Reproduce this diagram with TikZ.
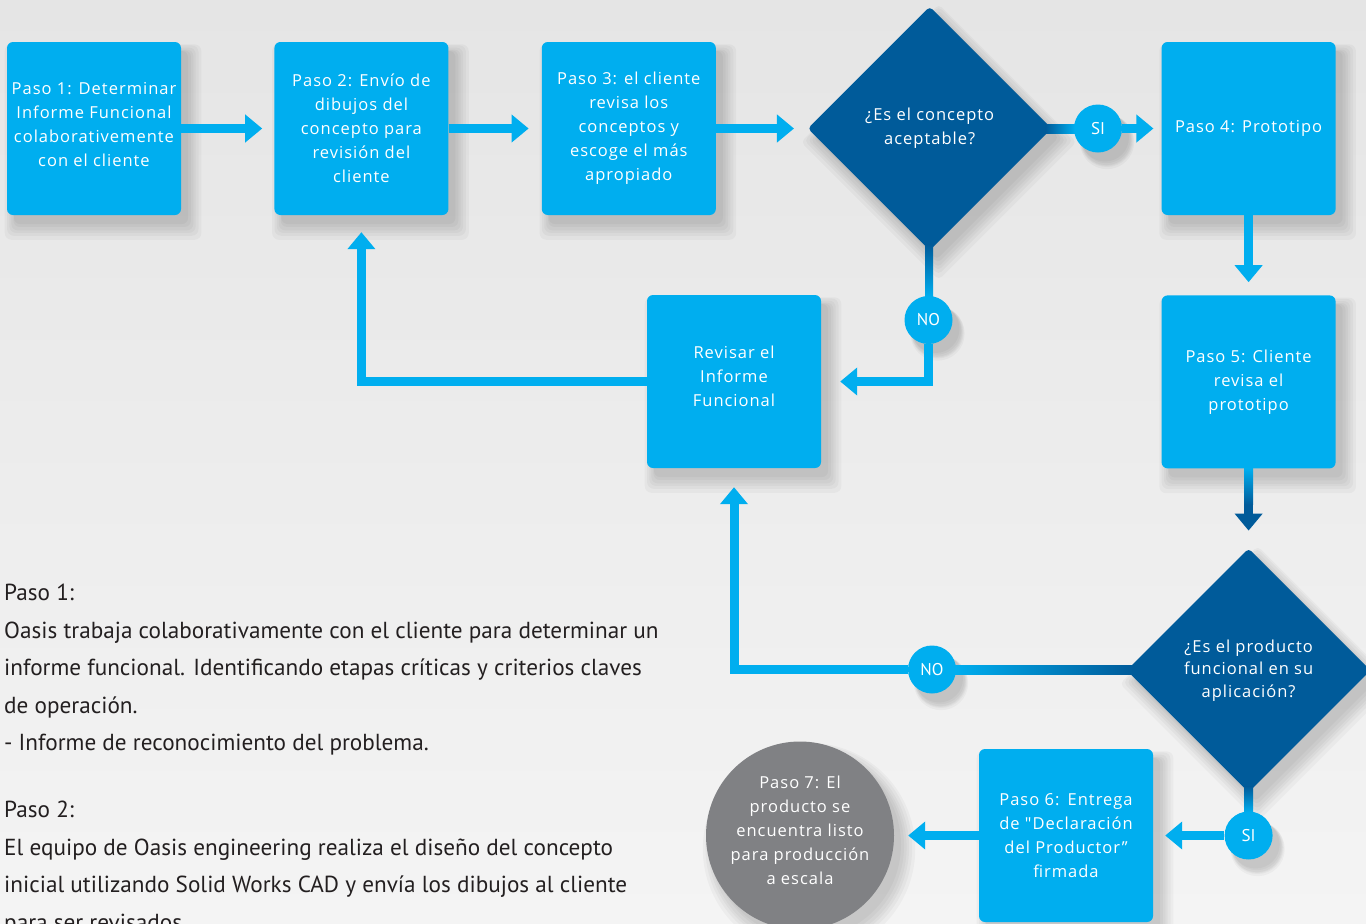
\documentclass[tikz,border=0pt]{standalone}
\usepackage{fontspec}
\setmainfont{PT Sans}
\newfontfamily\boxfont{Open Sans}[LetterSpace=6]
\usetikzlibrary{arrows.meta}
\usetikzlibrary{positioning}
\usetikzlibrary{shapes.geometric}
\usetikzlibrary{shadows}
\usetikzlibrary{calc}

\definecolor{cyanbox}{RGB}{0,174,239}
\definecolor{deepblue}{RGB}{0,91,154}
\definecolor{stone}{RGB}{128,129,132}
\definecolor{inkgray}{RGB}{35,31,32}
\definecolor{paperTop}{RGB}{229,229,229}
\definecolor{paperBottom}{RGB}{244,244,244}

\tikzset{
  % soft shadow below right, made of faint stacked copies
  soft shadow/.style={
    general shadow={fill=black, opacity=.03, shadow xshift=8pt,
      shadow yshift=-12pt, shadow scale=1.13},
    general shadow={fill=black, opacity=.03, shadow xshift=8pt,
      shadow yshift=-11pt, shadow scale=1.10},
    general shadow={fill=black, opacity=.03, shadow xshift=8pt,
      shadow yshift=-11pt, shadow scale=1.07},
    general shadow={fill=black, opacity=.03, shadow xshift=8pt,
      shadow yshift=-11pt, shadow scale=1.045},
    general shadow={fill=black, opacity=.03, shadow xshift=8pt,
      shadow yshift=-10pt, shadow scale=1.02},
    general shadow={fill=black, opacity=.03, shadow xshift=7pt,
      shadow yshift=-9pt, shadow scale=1.0}
  }
}
\tikzset {
  flow node/.style = {
    soft shadow,
    text = white,
    inner sep = 0,
    align = center,
    font = \boxfont\fontsize{16.5}{24}\selectfont
  },
  % process step
  stepbox/.style = {
    flow node,
    fill = cyanbox,
    rectangle,
    rounded corners = 6pt,
    minimum width = 174pt,
    minimum height = 173pt
  },
  % question
  decision/.style = {
    flow node,
    fill = deepblue,
    diamond,
    rounded corners = 4pt,
    minimum width = 244pt,
    minimum height = 244pt
  },
  % last step
  final/.style = {
    flow node,
    fill = stone,
    circle,
    minimum size = 188pt
  },
  % yes / no marks
  answer/.style = {
    soft shadow,
    fill = cyanbox,
    circle,
    text = white,
    inner sep = 0,
    minimum size = 48pt,
    font = \fontsize{17}{20}\selectfont
  },
  arr/.style = {
    draw = cyanbox,
    line width = 9pt,
    -{Triangle[width=27pt,length=17pt]}
  },
  node distance = 93pt
}

\begin{document}
\begin{tikzpicture}[x=1pt, y=-1pt]
  \useasboundingbox (0,0) rectangle (1366,924);
  \clip (0,0) rectangle (1366,924);
  \shade[top color=paperTop, bottom color=paperBottom] (0,0) rectangle (1366,924);

  \node[stepbox, text depth=8pt] (p1) at (94,128.5) {Paso 1: Determinar\\Informe Funcional\\colaborativemente\\con el cliente};
  \node[stepbox] (p2) [right=of p1] {Paso 2: Envío de\\dibujos del\\concepto para\\revisión del\\cliente};
  \node[stepbox] (p3) [right=of p2] {Paso 3: el cliente\\revisa los\\conceptos y\\escoge el más\\apropiado};
  \node[decision] (q1) [right=91.5pt of p3] {¿Es el concepto\\aceptable?};
  \node[stepbox] (p4) [right=109.5pt of q1] {Paso 4: Prototipo};
  \node[stepbox] (p5) [below=80pt of p4] {Paso 5: Cliente\\revisa el\\prototipo};
  \node[decision] (q2) [below=79.5pt of p5,
    font=\boxfont\fontsize{16.5}{22.5}\selectfont] {¿Es el producto\\funcional en su\\aplicación?};
  \node[stepbox, text depth=10pt] (rev) at (734,381.5) {Revisar el\\Informe\\Funcional};
  \node[stepbox] (p6) at (1066,835.5) {Paso 6:\enspace Entrega\\de "Declaración\\del Productor”\\firmada};
  \node[final, text depth=10pt] (p7) at (800,835.5) {Paso 7: El\\producto se\\encuentra listo\\para producción\\a escala};

  \node[answer] (si1) at (1098,128.5) {SI};
  \node[answer] (no1) at (928.5,320) {NO};
  \node[answer] (no2) at (932,669.5) {NO};
  \node[answer] (si2) at (q2 |- p6) {SI};

  % main line
  \draw[arr, shorten >=12pt] (p1) -- (p2);
  \draw[arr, shorten >=13pt] (p2) -- (p3);
  \draw[arr, shorten >=13.5pt] (p3) -- (q1);
  \shade[left color=deepblue, right color=cyanbox]
    ($(q1.east)+(-6,-4.5)$) rectangle ($(si1.west)+(1,4.5)$);
  \draw[arr, shorten >=8pt] (si1) -- (p4);
  \draw[arr, shorten >=13pt] (p4) -- (p5);
  \draw[arr, draw=deepblue, shorten >=17.5pt] (p5) -- (q2);
  \shade[top color=cyanbox, bottom color=deepblue]
    ($(p5.south)+(-4.5,0)$) rectangle ($(p5.south)+(4.5,36)$);

  % first answer is no
  \shade[top color=deepblue, bottom color=cyanbox]
    ($(q1.south)+(-4.5,-6)$) rectangle ($(no1.north)+(4.5,1)$);
  \draw[arr, shorten >=19pt] (no1) |- (rev);
  \draw[arr, shorten >=17pt] (rev) -| (p2);

  % second answer is no
  \shade[left color=cyanbox, right color=deepblue]
    ($(no2.east)+(-1,-4.5)$) rectangle ($(q2.west)+(6,4.5)$);
  \draw[arr, shorten >=19pt] (no2) -| (rev);

  % second answer is yes
  \shade[top color=deepblue, bottom color=cyanbox]
    ($(q2.south)+(-4.5,-6)$) rectangle ($(si2.north)+(4.5,1)$);
  \draw[arr, shorten >=12pt] (si2) -- (p6);
  \draw[arr, shorten >=14pt] (p6) -- (p7);

  \node[anchor=north west, inner sep=0, align=left, text=inkgray,
    font=\fontsize{23.2}{37.5}\selectfont] (notes) at (4,584)
    {Paso 1:\\
     Oasis trabaja colaborativamente con el cliente para determinar un\\
     informe funcional. Identificando etapas críticas y criterios claves\\
     de operación.\\
     - Informe de reconocimiento del problema.\\[29.5pt]
     Paso 2:\\
     El equipo de Oasis engineering realiza el diseño del concepto\\
     inicial utilizando Solid Works CAD y envía los dibujos al cliente\\
     para ser revisados.};
\end{tikzpicture}
\end{document}
